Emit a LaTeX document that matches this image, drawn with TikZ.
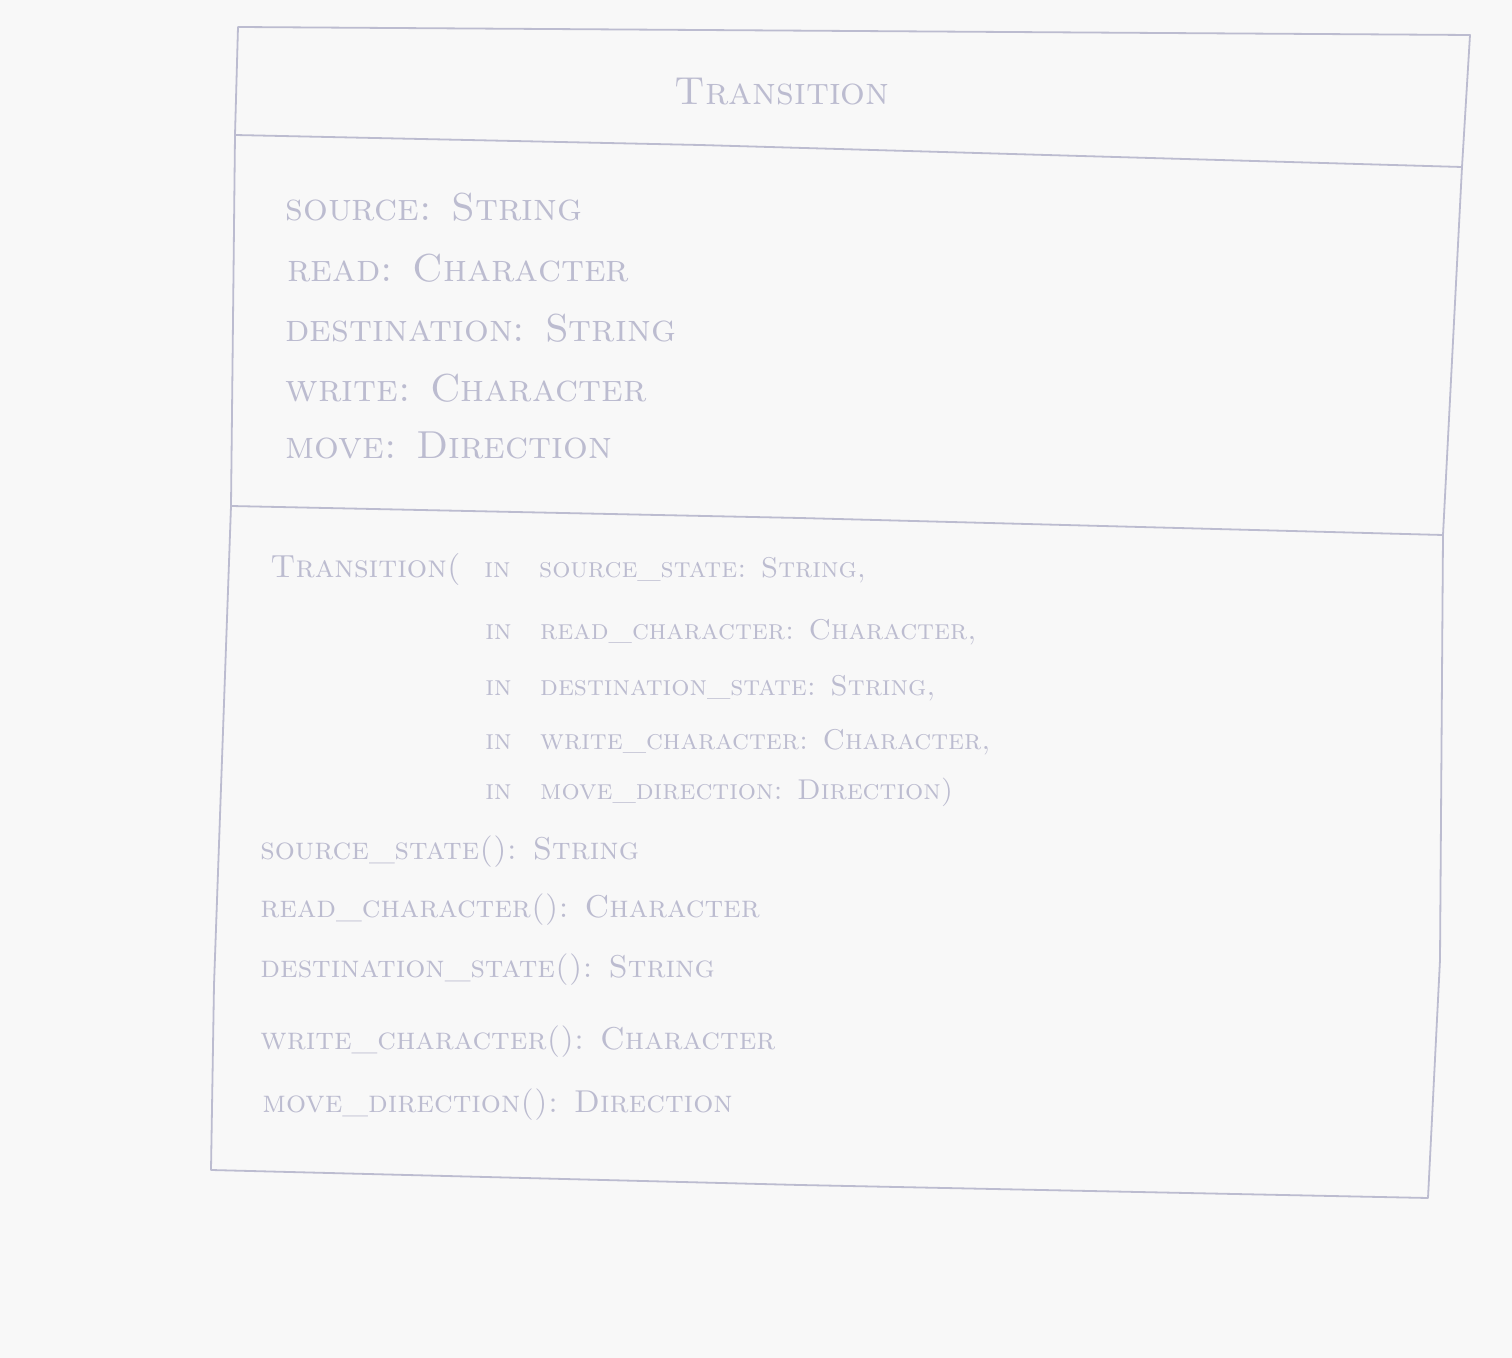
\documentclass[tikz,border=0pt]{standalone}
\usepackage{fontspec}
\definecolor{pencil}{RGB}{188,188,208}
\definecolor{paper}{RGB}{248,248,248}
\tikzset{
  pen/.style={draw=pencil, line width=0.9pt, line join=round, line cap=round},
  txt/.style={text=pencil, anchor=west, inner sep=0pt, font=\fontsize{15.8}{18}\selectfont\scshape},
  attr/.style={txt, font=\fontsize{19.5}{22}\selectfont\scshape},
  ctor/.style={txt, font=\fontsize{14.3}{16}\selectfont\scshape},
  ttl/.style={text=pencil, inner sep=0pt, font=\fontsize{19.5}{22}\selectfont\scshape}
}
\begin{document}
\begin{tikzpicture}[x=0.5pt,y=-0.5pt]
\fill[paper] (0,0) rectangle (1512,1358);
\useasboundingbox (0,0) rectangle (1512,1358);
% corners
\coordinate (tl) at (238,27);
\coordinate (tr) at (1470,35);
\coordinate (br) at (1428,1198);
\coordinate (bl) at (211,1170);
\coordinate (d1l) at (235,135);
\coordinate (d1r) at (1462,167);
\coordinate (d2l) at (231,506);
\coordinate (d2r) at (1443,535);
% outline
\draw[pen] (tl) -- (tr) -- (d1r) -- (d2r) -- (1440,960) -- (br)
  -- (800,1185) -- (bl) -- (214,985) -- (d2l) -- (d1l) -- cycle;
\draw[pen] (d1l) -- (700,145) -- (d1r);
\draw[pen] (d2l) -- (800,518) -- (d2r);
% title
\node[ttl] (title) at (782,92) {Transition};
% attributes
\node[attr] (a1) at (285,207) {source: String};
\node[attr] (a2) at (287,268) {read: Character};
\node[attr] (a3) at (285,328) {destination: String};
\node[attr] (a4) at (285,388) {write: Character};
\node[attr] (a5) at (285,445) {move: Direction};
% constructor
\node[ctor] (c1) at (270,570) {\makebox[107pt][l]{\fontsize{16}{18}\selectfont Transition(}in\quad source\_state: String,};
\node[ctor] (c2) at (485,632) {in\quad read\_character: Character,};
\node[ctor] (c3) at (485,688) {in\quad destination\_state: String,};
\node[ctor] (c4) at (485,742) {in\quad write\_character: Character,};
\node[ctor] (c5) at (485,792) {in\quad move\_direction: Direction)};
% methods
\node[txt] (m1) at (260,852) {source\_state(): String};
\node[txt] (m2) at (260,910) {read\_character(): Character};
\node[txt] (m3) at (260,970) {destination\_state(): String};
\node[txt] (m4) at (260,1042) {write\_character(): Character};
\node[txt] (m5) at (262,1105) {move\_direction(): Direction};
\end{tikzpicture}
\end{document}
